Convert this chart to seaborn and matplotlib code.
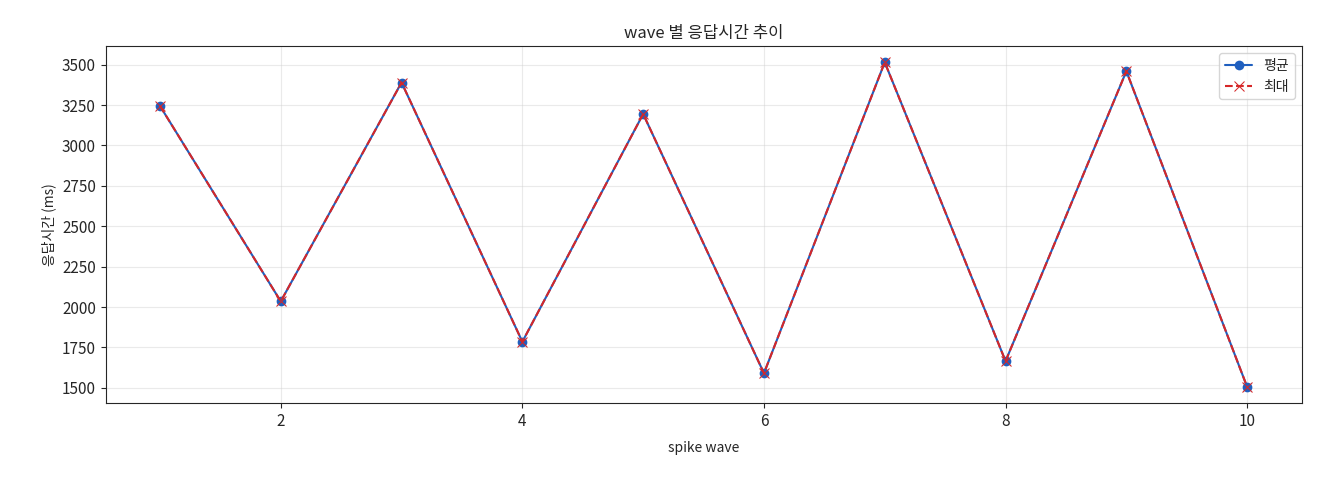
import matplotlib
matplotlib.use('Agg')
import matplotlib.pyplot as plt
import pandas as pd
import seaborn as sns

waves = [1, 2, 3, 4, 5, 6, 7, 8, 9, 10]
avg_ms = [3245, 2035, 3390, 1785, 3195, 1590, 3515, 1665, 3460, 1505]
max_ms = [3245, 2035, 3390, 1785, 3195, 1590, 3515, 1665, 3460, 1505]

df = pd.DataFrame({'wave': waves, 'avg': avg_ms, 'max': max_ms})

sns.set_style('ticks')
plt.rcParams['font.family'] = ['Noto Sans CJK KR', 'DejaVu Sans']
plt.rcParams['axes.unicode_minus'] = False

fig, ax = plt.subplots(figsize=(13.2, 4.8), dpi=100)
sns.lineplot(data=df, x='wave', y='avg', marker='o', color='#1f5fbf', label='평균',
             markersize=7, markeredgewidth=0, ax=ax)
sns.lineplot(data=df, x='wave', y='max', marker='x', color='#d62728', linestyle='--',
             label='최대', markersize=7, markeredgecolor='#d62728', ax=ax)
ax.set_title('wave 별 응답시간 추이', fontsize=12)
ax.set_xlabel('spike wave', fontsize=10, labelpad=8)
ax.set_ylabel('응답시간 (ms)', fontsize=10)
ax.set_yticks([1500, 1750, 2000, 2250, 2500, 2750, 3000, 3250, 3500])
ax.tick_params(labelsize=11)
ax.grid(True, alpha=0.4)
ax.legend(loc='upper right')
plt.subplots_adjust(left=0.08, right=0.986, top=0.904, bottom=0.16)
plt.savefig('out.png', dpi=100)
